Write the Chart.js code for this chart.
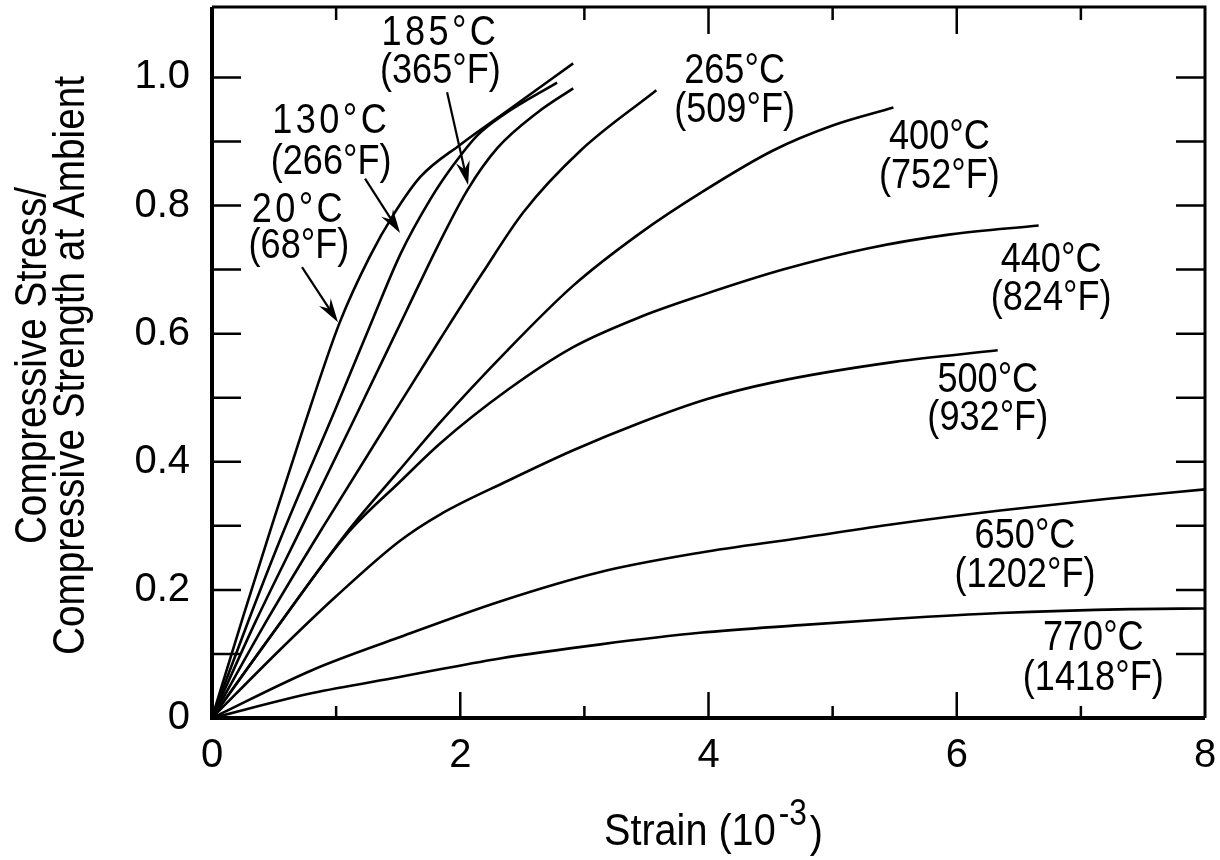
<!DOCTYPE html>
<html>
<head>
<meta charset="utf-8">
<script src="https://cdn.jsdelivr.net/npm/chart.js@4.4.0/dist/chart.umd.min.js"></script>
<style>
  html, body { margin: 0; padding: 0; background: #fff; }
</style>
</head>
<body>
<canvas id="chart" width="1220" height="860"></canvas>
<script>
// strain in 10^-3, stress as fraction of ambient compressive strength
const strain20  = [0, 0.25, 0.47, 0.73, 1.03, 1.27, 1.46, 1.68, 2.0, 2.38, 2.91];
const stress20  = [0, 0.158, 0.293, 0.449, 0.618, 0.72, 0.785, 0.845, 0.895, 0.948, 1.022];
const strain130 = [0, 0.3, 0.58, 0.99, 1.3, 1.52, 1.76, 1.94, 2.14, 2.35, 2.78];
const stress130 = [0, 0.155, 0.293, 0.48, 0.625, 0.725, 0.81, 0.862, 0.91, 0.942, 0.992];
const strain185 = [0, 0.35, 0.71, 1.18, 1.57, 1.84, 2.06, 2.30, 2.62, 2.91];
const stress185 = [0, 0.15, 0.293, 0.48, 0.637, 0.745, 0.825, 0.89, 0.945, 0.983];
const strain265 = [0, 0.45, 0.9, 1.51, 1.84, 2.18, 2.51, 2.97, 3.58];
const stress265 = [0, 0.155, 0.3, 0.49, 0.592, 0.695, 0.79, 0.886, 0.98];
const strain400 = [0, 0.5, 1.1, 1.51, 1.84, 2.38, 2.91, 3.45, 3.93, 4.52, 5.0, 5.49];
const stress400 = [0, 0.135, 0.293, 0.387, 0.462, 0.574, 0.675, 0.757, 0.819, 0.886, 0.925, 0.953];
const strain440 = [0, 0.5, 1.1, 1.51, 1.84, 2.38, 2.91, 3.45, 3.93, 4.6, 5.28, 5.95, 6.66];
const stress440 = [0, 0.135, 0.29, 0.368, 0.429, 0.512, 0.579, 0.626, 0.659, 0.70, 0.733, 0.755, 0.769];
const strain500 = [0, 0.54, 1.0, 1.51, 1.84, 2.38, 2.91, 3.45, 3.99, 4.52, 5.5, 6.33];
const stress500 = [0, 0.105, 0.19, 0.276, 0.318, 0.37, 0.418, 0.461, 0.498, 0.524, 0.556, 0.574];
const strain650 = [0, 0.81, 1.51, 2.32, 3.13, 3.93, 4.74, 5.5, 6.35, 7.2, 8.0];
const stress650 = [0, 0.075, 0.126, 0.182, 0.228, 0.258, 0.281, 0.303, 0.324, 0.342, 0.357];
const strain770 = [0, 0.81, 1.51, 2.32, 3.13, 3.93, 4.74, 5.5, 6.35, 7.4, 8.0];
const stress770 = [0, 0.039, 0.064, 0.093, 0.115, 0.133, 0.145, 0.155, 0.164, 0.17, 0.171];

const tempC = ['20°C', '130°C', '185°C', '265°C', '400°C', '440°C', '500°C', '650°C', '770°C'];
const tempF = ['(68°F)', '(266°F)', '(365°F)', '(509°F)', '(752°F)', '(824°F)', '(932°F)', '(1202°F)', '(1418°F)'];

const xTickLabels = ['0', '2', '4', '6', '8'];
const yTickLabels = ['0', '0.2', '0.4', '0.6', '0.8', '1.0'];

const curves = [
  [strain20, stress20], [strain130, stress130], [strain185, stress185],
  [strain265, stress265], [strain400, stress400], [strain440, stress440],
  [strain500, stress500], [strain650, stress650], [strain770, stress770]
];

// where each pair of labels sits, in axis units (x, baseline y of °C line, baseline y of °F line)
const labelPos = [
  [0.70, 0.774, 0.718], [0.96, 0.914, 0.850], [1.84, 1.051, 0.991],
  [4.21, 0.991, 0.930], [5.86, 0.889, 0.828], [6.76, 0.696, 0.637],
  [6.25, 0.509, 0.449], [6.55, 0.265, 0.204], [7.10, 0.106, 0.044]
];
// pointer arrows: [fromX, fromY, toX, toY]
const arrows = [
  [0.725, 0.704, 1.015, 0.618],
  [1.233, 0.842, 1.515, 0.757],
  [1.894, 0.977, 2.063, 0.832]
];

const FONT = "'Liberation Sans', Arial, sans-serif";
Chart.defaults.font.family = FONT;
Chart.defaults.color = '#000';

// text squeezed horizontally to get a condensed face
function narrowText(ctx, text, x, y, size, squeeze, rot = 0) {
  ctx.save();
  ctx.translate(x, y);
  if (rot) ctx.rotate(rot);
  ctx.scale(squeeze, 1);
  ctx.font = size + 'px ' + FONT;
  ctx.fillText(text, 0, 0);
  ctx.restore();
}

const decorations = {
  id: 'decorations',
  afterDatasetsDraw(chart) {
    const {ctx, chartArea: a, scales: {x, y}} = chart;
    ctx.save();
    ctx.strokeStyle = '#000';
    ctx.fillStyle = '#000';

    // tick marks pointing into the plot
    ctx.lineWidth = 2.5;
    ctx.beginPath();
    for (let i = 1; i <= 10; i++) {
      const py = y.getPixelForValue(i / 10);
      ctx.moveTo(a.left, py); ctx.lineTo(a.left + 29, py);
      ctx.moveTo(a.right, py); ctx.lineTo(a.right - 29, py);
    }
    for (let v = 1; v <= 7; v++) {
      const px = x.getPixelForValue(v);
      const major = v % 2 === 0;
      ctx.moveTo(px, a.bottom); ctx.lineTo(px, a.bottom - (major ? 26 : 12));
      if (v !== 2) { // the 185°C label covers the top tick at 2
        ctx.moveTo(px, a.top); ctx.lineTo(px, a.top + (major ? 27 : 13));
      }
    }
    ctx.stroke();

    // frame
    ctx.lineWidth = 4;
    ctx.beginPath();
    ctx.moveTo(a.left, a.top); ctx.lineTo(a.left, a.bottom); ctx.lineTo(a.right, a.bottom);
    ctx.stroke();
    ctx.lineWidth = 3;
    ctx.beginPath();
    ctx.moveTo(a.left, a.top); ctx.lineTo(a.right, a.top); ctx.lineTo(a.right, a.bottom);
    ctx.stroke();

    // temperature labels
    ctx.textAlign = 'center';
    ctx.textBaseline = 'alphabetic';
    labelPos.forEach(([lx, yc, yf], i) => {
      const px = x.getPixelForValue(lx);
      ctx.letterSpacing = i < 3 ? '4px' : '0px';
      narrowText(ctx, tempC[i], px, y.getPixelForValue(yc), 42, 0.86);
      ctx.letterSpacing = '0px';
      narrowText(ctx, tempF[i], px, y.getPixelForValue(yf), 42, 0.86);
    });

    // arrows
    ctx.lineWidth = 2.2;
    arrows.forEach(([x0, y0, x1, y1]) => {
      const ax = x.getPixelForValue(x0), ay = y.getPixelForValue(y0);
      const bx = x.getPixelForValue(x1), by = y.getPixelForValue(y1);
      const ang = Math.atan2(by - ay, bx - ax);
      const ux = Math.cos(ang), uy = Math.sin(ang);
      const len = 24, half = 7;
      ctx.beginPath();
      ctx.moveTo(ax, ay);
      ctx.lineTo(bx - ux * 14, by - uy * 14);
      ctx.stroke();
      ctx.beginPath();
      ctx.moveTo(bx, by);
      ctx.lineTo(bx - ux * len - uy * half, by - uy * len + ux * half);
      ctx.lineTo(bx - ux * 16, by - uy * 16);
      ctx.lineTo(bx - ux * len + uy * half, by - uy * len - ux * half);
      ctx.closePath();
      ctx.fill();
    });

    // y axis title, two rotated lines
    ctx.textBaseline = 'middle';
    const midY = (a.top + a.bottom) / 2 + 3;
    narrowText(ctx, 'Compressive Stress/', a.left - 178, midY, 44, 0.88, -Math.PI / 2);
    narrowText(ctx, 'Compressive Strength at Ambient', a.left - 140, midY, 44, 0.88, -Math.PI / 2);

    // x axis title with superscript exponent
    const main = 'Strain (10', sup = '-3', close = ')';
    const sq = 0.88;
    ctx.textAlign = 'left';
    ctx.textBaseline = 'alphabetic';
    ctx.font = '45px ' + FONT;
    const w1 = ctx.measureText(main).width * sq, w3 = ctx.measureText(close).width * sq;
    ctx.font = '36px ' + FONT;
    const w2 = ctx.measureText(sup).width * sq;
    const cx = (a.left + a.right) / 2 + 5;
    let tx = cx - (w1 + w2 + w3 + 6) / 2;
    const base = 845;
    narrowText(ctx, main, tx, base, 45, sq);
    tx += w1 + 3;
    narrowText(ctx, sup, tx, base - 20, 36, sq);
    tx += w2 + 3;
    narrowText(ctx, close, tx, base + 2, 45, sq);
    ctx.restore();
  }
};

new Chart(document.getElementById('chart'), {
  type: 'line',
  data: {
    datasets: curves.map(([xs, ys]) => ({
      data: xs.map((v, i) => ({x: v, y: ys[i]})),
      borderColor: '#000',
      borderWidth: 2.6,
      pointRadius: 0,
      cubicInterpolationMode: 'monotone',
      fill: false
    }))
  },
  options: {
    responsive: false,
    devicePixelRatio: 1,
    animation: false,
    events: [],
    layout: {padding: {top: 7, right: 15, left: 0, bottom: 0}, autoPadding: false},
    plugins: {legend: {display: false}, tooltip: {enabled: false}},
    scales: {
      x: {
        type: 'linear', min: 0, max: 8,
        grid: {display: false, drawTicks: false},
        border: {display: false},
        ticks: {
          stepSize: 1, autoSkip: false, maxRotation: 0, padding: 14,
          font: {size: 40},
          callback: v => (Number.isInteger(v) && v % 2 === 0) ? xTickLabels[v / 2] : null
        },
        afterFit: s => { s.height = 142; s.paddingLeft = 0; s.paddingRight = 0; }
      },
      y: {
        type: 'linear', min: 0, max: 1.11,
        grid: {display: false, drawTicks: false},
        border: {display: false},
        ticks: {
          stepSize: 0.1, autoSkip: false, padding: 22,
          font: {size: 40},
          callback: v => {
            const n = Math.round(v * 10);
            return (Math.abs(v * 10 - n) < 1e-6 && n % 2 === 0 && n <= 10) ? yTickLabels[n / 2] : null;
          }
        },
        afterFit: s => { s.width = 212; s.paddingTop = 0; s.paddingBottom = 0; }
      }
    }
  },
  plugins: [decorations]
});
</script>
</body>
</html>
